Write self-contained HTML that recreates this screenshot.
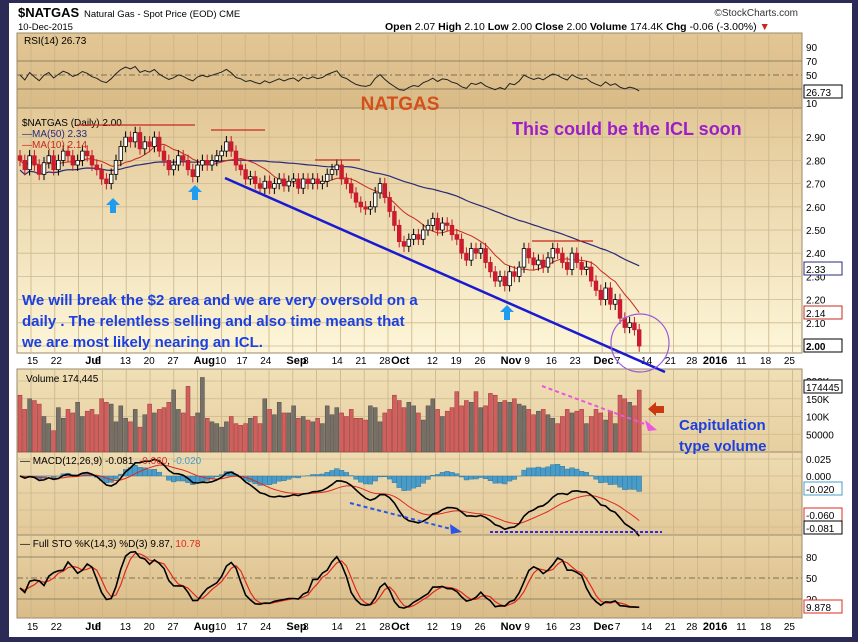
<!DOCTYPE html>
<html><head><meta charset="utf-8"><style>
html,body{margin:0;padding:0;background:#2b2b55;}
svg{display:block;font-family:"Liberation Sans",Arial,sans-serif;}
</style></head><body>
<svg id="c" width="858" height="642" viewBox="0 0 858 642">
<defs>
<linearGradient id="gP" x1="0" y1="0" x2="0" y2="1"><stop offset="0" stop-color="#e3c897"/><stop offset="1" stop-color="#fdf6d8"/></linearGradient>
<linearGradient id="gR" x1="0" y1="0" x2="0" y2="1"><stop offset="0" stop-color="#e2c694"/><stop offset="1" stop-color="#d9bb87"/></linearGradient>
<linearGradient id="gV" x1="0" y1="0" x2="0" y2="1"><stop offset="0" stop-color="#f0dfb6"/><stop offset="1" stop-color="#e6cfa0"/></linearGradient>
<linearGradient id="gM" x1="0" y1="0" x2="0" y2="1"><stop offset="0" stop-color="#eedcb2"/><stop offset="1" stop-color="#e3c999"/></linearGradient>
<linearGradient id="gS" x1="0" y1="0" x2="0" y2="1"><stop offset="0" stop-color="#e9d2a4"/><stop offset="1" stop-color="#d9bc88"/></linearGradient>
</defs>
<rect x="0" y="0" width="858" height="642" fill="#2b2b55"/>
<rect x="9" y="3" width="843" height="634" fill="#ffffff"/>
<g id="panels"></g>
<g id="grid"></g>
<g id="marks"></g>
<g id="labels"></g>
<g id="notes"></g>
</svg>
<script>
// ---- data ----
const closes=[2.80,2.76,2.82,2.78,2.74,2.79,2.82,2.76,2.80,2.84,
2.82,2.78,2.80,2.84,2.82,2.78,2.76,2.72,2.70,2.74,
2.80,2.86,2.90,2.88,2.92,2.85,2.88,2.86,2.90,2.84,
2.80,2.76,2.78,2.82,2.80,2.76,2.73,2.78,2.80,2.78,
2.80,2.82,2.84,2.88,2.84,2.78,2.76,2.72,2.73,2.70,
2.68,2.71,2.68,2.70,2.72,2.69,2.71,2.72,2.68,2.72,
2.70,2.72,2.70,2.71,2.74,2.76,2.78,2.72,2.70,2.66,
2.62,2.60,2.59,2.60,2.66,2.70,2.64,2.58,2.52,2.45,
2.43,2.46,2.48,2.46,2.50,2.52,2.55,2.50,2.53,2.52,
2.48,2.46,2.40,2.37,2.42,2.40,2.42,2.36,2.32,2.28,
2.30,2.26,2.32,2.30,2.34,2.42,2.38,2.35,2.37,2.34,
2.38,2.42,2.40,2.36,2.33,2.40,2.36,2.33,2.34,2.28,
2.24,2.20,2.25,2.18,2.20,2.12,2.08,2.10,2.07,2.00];
const volumes=[160,120,150,145,135,100,80,60,125,95,
120,110,140,100,115,120,105,150,140,135,
85,130,95,85,120,70,105,135,110,120,
125,140,175,120,110,185,100,110,210,95,
85,80,70,85,100,80,75,80,95,100,
80,150,120,105,140,110,110,130,95,100,
90,85,95,80,130,105,125,110,100,120,
95,95,90,130,125,85,110,120,160,145,
125,140,130,110,90,130,150,120,100,115,
125,170,130,145,140,170,125,130,165,160,
140,145,140,150,135,130,120,105,115,120,
105,95,80,100,120,110,115,120,80,100,
120,110,90,115,80,160,150,140,130,174.445];
const priceTicks=[2.90,2.80,2.70,2.60,2.50,2.40,2.30,2.20,2.10,2.00];
const rsiTicks=[90,70,50,10];
const volTicks=[200,150,100,50];
const volTickLabels=["200K","150K","100K","50000"];
const macdTicks=[0.025,0.000];
const stoTicks=[80,50,20];
const dateLabels=[["15",0],["22",1],["Jul",2.45],["6",2.85],["13",3.9],["20",4.9],["27",5.9],["Aug",7],["10",7.9],["17",8.8],["24",9.8],["Sep",10.9],["8",11.6],["14",12.8],["21",13.8],["28",14.8],["Oct",15.3],["12",16.8],["19",17.8],["26",18.8],["Nov",19.9],["9",20.9],["16",21.8],["23",22.8],["Dec",23.8],["7",24.7],["14",25.8],["21",26.8],["28",27.7],["2016",28.4],["11",29.8],["18",30.8],["25",31.8]];
const boldLabels=["Jul","Aug","Sep","Oct","Nov","Dec","2016"];

// ---- scales ----
const L=17,R=802;
const xi=i=>20+4.8*i;
const xw=w=>31+23.8*w;
const yP=p=>346-(p-2.0)*232;
const yR=v=>110-v*0.7;
const yV=v=>452-v*0.355;
const yM=v=>476-v*680;
const yS=v=>613-v*0.7;
const NS='http://www.w3.org/2000/svg';
function mk(tag,at,parent,txt){const e=document.createElementNS(NS,tag);for(const k in at)e.setAttribute(k,at[k]);if(txt!==undefined)e.textContent=txt;document.getElementById(parent).appendChild(e);return e;}

// ---- derived series ----
const opens=closes.map((c,i)=>i?closes[i-1]:c+0.02);
const highs=closes.map((c,i)=>Math.max(c,opens[i])+0.025);
const lows=closes.map((c,i)=>Math.min(c,opens[i])-0.025);
function sma(a,n){return a.map((v,i)=>{const s=a.slice(Math.max(0,i-n+1),i+1);return s.reduce((x,y)=>x+y,0)/s.length;});}
function ema(a,n){const k=2/(n+1);let e=a[0];return a.map(v=>e=v*k+e*(1-k));}
const ma50=sma(closes,50).map((v,i)=>i<50?v*0.985+0.04*(i/50):v);
const ma10=sma(closes,10);
const e12=ema(closes,12),e26=ema(closes,26);
const macd=e12.map((v,i)=>v-e26[i]);
const sig=ema(macd,9);
const hist=macd.map((v,i)=>v-sig[i]);
const rsi=[];{let ag=0.01,al=0.01;closes.forEach((c,i)=>{const d=i?c-closes[i-1]:0;ag=(ag*13+Math.max(d,0))/14;al=(al*13+Math.max(-d,0))/14;rsi.push(100-100/(1+ag/al));});}
const fk=closes.map((c,i)=>{const hh=Math.max(...highs.slice(Math.max(0,i-13),i+1));const ll=Math.min(...lows.slice(Math.max(0,i-13),i+1));return 100*(c-ll)/(hh-ll);});
const stoK=sma(fk,3),stoD=sma(stoK,3);

// ---- panels ----
const panels=[["rsi-panel",33,108,"url(#gR)"],["price-panel",108,353,"url(#gP)"],["volume-panel",369,452,"url(#gV)"],["macd-panel",452,535,"url(#gM)"],["sto-panel",535,618,"url(#gS)"]];
panels.forEach(p=>{const r=mk('rect',{x:L,y:p[1],width:R-L,height:p[2]-p[1],fill:p[3],stroke:'#9b8a6a','stroke-width':1},'panels');

});
for(let w=-1;w<33;w++){const x=xw(w);if(x<L||x>R)continue;panels.forEach(p=>{const l=mk('line',{x1:x,y1:p[1],x2:x,y2:p[2],stroke:'#c9b48a','stroke-width':0.8},'grid');

});}
function hline(y,parent,color,dash,name){const l=mk('line',{x1:L,y1:y,x2:R,y2:y,stroke:color,'stroke-width':dash?1:0.8,'stroke-dasharray':dash||'none'},parent);

}
priceTicks.forEach(t=>hline(yP(t),'grid','#cdb98f',null,'price-gridline'));
[70,30].forEach(t=>hline(yR(t),'grid','#7d6e55',null,'rsi-level-line'));
hline(yR(50),'grid','#7d6e55','6,3,2,3','rsi-mid-line');
volTicks.forEach(t=>hline(yV(t),'grid','#cdb98f',null,'volume-gridline'));
[0.025,0,-0.025,-0.05,-0.075].forEach(t=>hline(yM(t),'grid','#cdb98f',null,'macd-gridline'));
[80,20].forEach(t=>hline(yS(t),'grid','#7d6e55',null,'sto-level-line'));
hline(yS(50),'grid','#7d6e55','6,3,2,3','sto-mid-line');

// ---- marks ----
function poly(arr,fx,fy,color,w,name){const pts=arr.map((v,i)=>fx(i).toFixed(1)+','+fy(v).toFixed(1)).join(' ');const p=mk('polyline',{points:pts,fill:'none',stroke:color,'stroke-width':w},'marks');

}
volumes.forEach((v,i)=>{const up=closes[i]>=opens[i];const r=mk('rect',{x:xi(i)-2,y:yV(v),width:4,height:452-yV(v),fill:up?'#777068':'#d06060',stroke:up?'#4e4a44':'#9c3434','stroke-width':0.5},'marks');

});
hist.forEach((v,i)=>{const y0=yM(0),y1=yM(v);const r=mk('rect',{x:xi(i)-2.4,y:Math.min(y0,y1),width:4.8,height:Math.abs(y1-y0),fill:'#4a9cc8',stroke:'#2d6f96','stroke-width':0.4},'marks');

});
poly(sig,xi,yM,'#e0281c',1,'macd-signal-line');
poly(macd,xi,yM,'#000',1.6,'macd-line');
poly(rsi,xi,yR,'#222',1,'rsi-line');
poly(stoD,xi,yS,'#e0281c',1.2,'sto-d-line');
poly(stoK,xi,yS,'#000',1.6,'sto-k-line');
poly(ma50,xi,yP,'#2a2a78',1.2,'ma50-line');
poly(ma10,xi,yP,'#c8281c',1,'ma10-line');
closes.forEach((c,i)=>{const o=opens[i],x=xi(i),up=c>=o;
const w=mk('line',{x1:x,y1:yP(highs[i]),x2:x,y2:yP(lows[i]),stroke:up?'#000':'#c41a2a','stroke-width':1},'marks');


const top=yP(Math.max(o,c)),h=Math.max(1.5,Math.abs(yP(o)-yP(c)));
const b=mk('rect',{x:x-1.8,y:top,width:3.6,height:h,fill:up?'#fff':'#d01a30',stroke:up?'#000':'#c41a2a','stroke-width':0.8},'marks');

});

// ---- labels ----
function txt(x,y,s,size,color,weight,anchor,name,parent){const t=mk('text',{x:x,y:y,'font-size':size,fill:color,'font-weight':weight||'normal','text-anchor':anchor||'start'},parent||'labels',s);

return t;}
priceTicks.forEach(t=>txt(806,yP(t)+4,t.toFixed(2),10,'#000','normal','start','price-tick-label'));
rsiTicks.forEach(t=>txt(806,yR(t)+4,String(t),10,'#000','normal','start','rsi-tick-label'));
volTicks.forEach((t,k)=>txt(806,yV(t*1)+4,volTickLabels[k],10,'#000','normal','start','volume-tick-label'));
macdTicks.forEach(t=>txt(806,yM(t)+4,t.toFixed(3),10,'#000','normal','start','macd-tick-label'));
stoTicks.forEach(t=>txt(806,yS(t)+4,String(t),10,'#000','normal','start','sto-tick-label'));
function box(y,s,color,bold,name){const r=mk('rect',{x:804,y:y-7,width:38,height:13,fill:'#fff',stroke:color,'stroke-width':1},'labels');


txt(806,y+4,s,10,'#000',bold?'bold':'normal','start',name);}
box(92,'26.73','#000',false,'rsi-value-label');
box(269,'2.33','#2a2a78',false,'ma50-value-label');
box(313,'2.14','#c8281c',false,'ma10-value-label');
box(346,'2.00','#000',true,'close-value-label');
box(387,'174445','#000',false,'volume-value-label');
box(489,'-0.020','#4a9cc8',false,'hist-value-label');
box(515,'-0.060','#e0281c',false,'signal-value-label');
box(528,'-0.081','#000',false,'macd-value-label');
box(607,'9.878','#e0281c',false,'sto-value-label');
[364,630].forEach((y,a)=>dateLabels.forEach(d=>txt(xw(d[1])-4,y,d[0],boldLabels.includes(d[0])?11:10,'#000',boldLabels.includes(d[0])?'bold':'normal','start','date-axis-label')));
txt(18,17,'$NATGAS',13,'#000','bold','start','symbol-title');
txt(84,17,'Natural Gas - Spot Price (EOD)  CME',9.5,'#000','normal','start','symbol-description');
txt(18,30,'10-Dec-2015',9.5,'#000','normal','start','chart-date');
txt(798,16,'©StockCharts.com',10,'#333','normal','end','watermark');
const q=mk('text',{x:385,y:30,'font-size':10.5,fill:'#000'},'labels');


q.innerHTML='<tspan font-weight="bold">Open</tspan> 2.07 <tspan font-weight="bold">High</tspan> 2.10 <tspan font-weight="bold">Low</tspan> 2.00 <tspan font-weight="bold">Close</tspan> 2.00 <tspan font-weight="bold">Volume</tspan> 174.4K <tspan font-weight="bold">Chg</tspan> -0.06 (-3.00%) <tspan fill="#c8281c">▼</tspan>';
txt(24,44,'RSI(14) 26.73',10,'#000','normal','start','rsi-legend');
txt(22,126,'$NATGAS (Daily) 2.00',10,'#000','normal','start','price-legend');
txt(22,137,'—MA(50) 2.33',10,'#2a2a78','normal','start','ma50-legend');
txt(22,148,'—MA(10) 2.14',10,'#c8281c','normal','start','ma10-legend');
txt(26,382,'Volume 174,445',10,'#000','normal','start','volume-legend');
const m=mk('text',{x:20,y:464,'font-size':10,fill:'#000'},'labels');


m.innerHTML='— MACD(12,26,9) -0.081, <tspan fill="#e0281c">-0.060</tspan>, <tspan fill="#4a9cc8">-0.020</tspan>';
const s=mk('text',{x:20,y:547,'font-size':10,fill:'#000'},'labels');


s.innerHTML='— Full STO %K(14,3) %D(3) 9.87, <tspan fill="#e0281c">10.78</tspan>';

// ---- annotations ----
txt(400,110,'NATGAS',19,'#d4501a','bold','middle','natgas-annotation','notes');
txt(512,135,'This could be the ICL soon',18,'#9b1ec8','bold','start','icl-annotation','notes');
['We will break the $2 area and we are very oversold on a','daily . The relentless selling and also time means that','we are most likely nearing an ICL.'].forEach((l,k)=>txt(22,305+k*21,l,15,'#1c3fe0','bold','start','commentary-text','notes'));
txt(679,430,'Capitulation',15,'#1c3fe0','bold','start','capitulation-annotation','notes');
txt(679,451,'type volume',15,'#1c3fe0','bold','start','capitulation-annotation-2','notes');
function ln(x1,y1,x2,y2,c,w,d,name){const l=mk('line',{x1,y1,x2,y2,stroke:c,'stroke-width':w,'stroke-dasharray':d||'none'},'notes');

}
ln(225,178,665,372,'#1a1ad0',2.5,null,'trendline');
ln(77,125,195,125,'#c8281c',1.2,null,'resistance-line');
ln(211,130,265,130,'#c8281c',1.2,null,'resistance-line');
ln(315,160,360,160,'#c8281c',1.2,null,'resistance-line');
ln(532,241,593,241,'#c8281c',1.2,null,'resistance-line');
ln(542,386,650,426,'#ee55dd',2,'4,3','volume-trend-arrow');
ln(350,503,455,530,'#2a55e8',2,'4,3','macd-trend-arrow');
ln(490,532,662,532,'#2a2ae0',2,'3,2','macd-support-line');
function arrow(pts,c,name){const p=mk('polygon',{points:pts,fill:c},'notes');

}
[[113,198],[195,185],[507,305]].forEach(a=>arrow(`${a[0]},${a[1]} ${a[0]+7},${a[1]+7} ${a[0]+3},${a[1]+7} ${a[0]+3},${a[1]+15} ${a[0]-3},${a[1]+15} ${a[0]-3},${a[1]+7} ${a[0]-7},${a[1]+7}`,'#1e9cf0','buy-arrow'));
arrow('648,409 656,402 656,406 664,406 664,413 656,413 656,416','#c83a10','volume-arrow');
arrow('657,430 645,420 648,431','#ee55dd','volume-arrow-head');
arrow('462,532 450,524 451,534','#2a55e8','macd-arrow-head');
const c=mk('circle',{cx:640,cy:343,r:29,fill:'none',stroke:'#9b5ad8','stroke-width':1.2},'notes');


</script>
</body></html>
